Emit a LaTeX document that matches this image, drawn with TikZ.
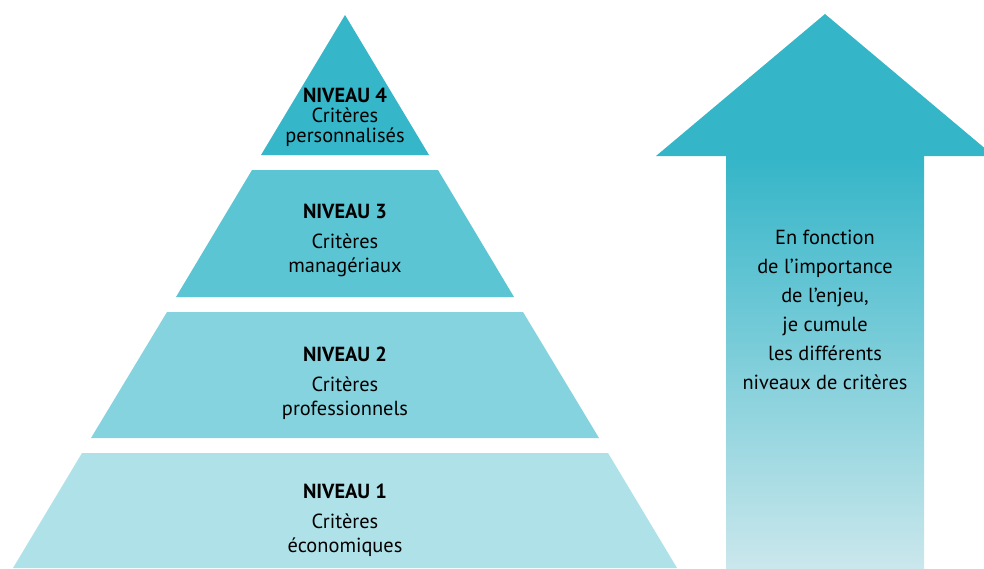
\documentclass[tikz,border=0pt]{standalone}
\usepackage{fontspec}
\setmainfont{PT Sans}
\definecolor{niveau quatre}{HTML}{35B6C9}
\definecolor{niveau trois}{HTML}{5BC5D3}
\definecolor{niveau deux}{HTML}{84D3DE}
\definecolor{niveau un}{HTML}{AEE1E8}
\definecolor{fleche haut}{HTML}{34B5C8}
\definecolor{fleche bas}{HTML}{CAE7EC}
\tikzset{band label/.style={align=center, inner sep=0pt, font=\fontsize{14.5}{17}\selectfont}}
\tikzset{top label/.style={band label, font=\fontsize{14.5}{14.2}\selectfont}}
\tikzset{arrow label/.style={align=center, inner sep=0pt, font=\fontsize{14.5}{20.6}\selectfont}}

\begin{document}
\begin{tikzpicture}
  [x=0.025cm, y=-0.025cm]
  \useasboundingbox (0,0) rectangle (984,568);
  \clip (0,0) rectangle (984,568);

  % pyramide
  \fill [niveau quatre] (345, 15) -- (429,155) -- (261,155) -- cycle;
  \fill [niveau trois]  (252,170) -- (438,170) -- (514,297) -- (176,297) -- cycle;
  \fill [niveau deux]   (167,312) -- (523,312) -- (599,438) -- ( 91,438) -- cycle;
  \fill [niveau un]     ( 82,453) -- (608,453) -- (677,568) -- ( 13,568) -- cycle;

  \node [top label]  (lvl4) at (345,117.5) {{\bfseries NIVEAU 4}\\Critères\\personnalisés};
  \node [band label] (lvl3) at (345,240.5) {{\bfseries NIVEAU 3}\\[4.3pt]Critères\\managériaux};
  \node [band label] (lvl2) at (345,383.5) {{\bfseries NIVEAU 2}\\[4.3pt]Critères\\professionnels};
  \node [band label] (lvl1) at (345,520.5) {{\bfseries NIVEAU 1}\\[4.3pt]Critères\\économiques};

  % fleche
  \fill [fleche haut] (825, 14) -- (994,156) -- (656,156) -- cycle;
  \shade [top color=fleche haut, bottom color=fleche bas] (726,155.5) rectangle (924,568);

  \node [arrow label] (enjeu) at (825,310) {En fonction\\de l’importance\\de l’enjeu,\\je cumule\\les différents\\niveaux de critères};
\end{tikzpicture}
\end{document}
